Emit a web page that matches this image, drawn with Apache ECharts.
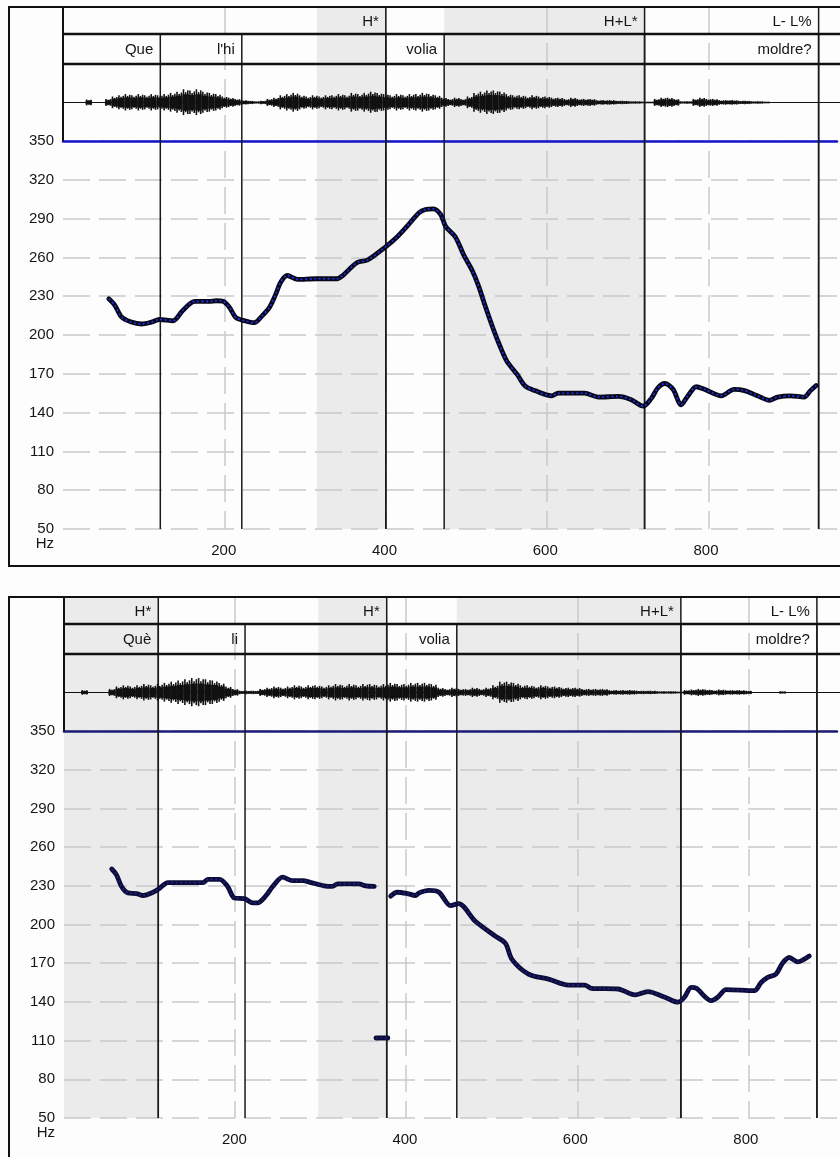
<!DOCTYPE html>
<html>
<head>
<meta charset="utf-8">
<script src="https://cdn.jsdelivr.net/npm/echarts@6/dist/echarts.min.js"></script>
<style>
  html, body { margin: 0; padding: 0; background: #fff; }
  #chart { width: 840px; height: 1157px; }
</style>
</head>
<body>
<div id="chart"></div>
<script>
// ---- Utterance 1: "Que l'hi volia moldre?" ----
// F0 contour, [time (ms), pitch (Hz)]
const pitchA = [
  [57,228],[64.5,223],[72.8,214],[85,210],[97.6,208.5],[110,210],[120,212],[137,211],
  [149,219],[164,226],[182,226],[190.6,226.5],[199,226],[207,221.5],[215,213.5],[226,211],
  [238,209.5],[248,215],[257,221.5],[265,232],[271,241],[279,246],[292,243],[315,243.5],
  [341,243.5],[348,246],[366,256],[379,258],[401,268],[416,276],[428,284],[443,294.5],
  [451,297],[461,297.5],[470,293],[476,284],[488,276],[498.5,262],[509,250],[517,238],
  [525,223],[534,207],[542,194],[552,180],[565,169.5],[575,160.5],[587,157],[608,153],
  [616,155],[649,155],[666,152],[691,152.5],[707,150],[722,145],[732,151],[740,159],
  [748.5,162.5],[759,158],[769,146],[777,152.5],[788,160],[798,158],[819,153],[835,158],
  [848,157],[864,153],[879,149.5],[889,152],[905,153],[922,152],[930,157],[937,161]
];
// Tone tier: [start, end, label, pitch-accent shading]
const tonesA = [[314.6,400.1,'H*',1],[472.4,720.8,'H+L*',1],[720.8,936.5,'L- L%',0]];
// Word tier: [label, end]
const wordsA = [['Que',120.6],["l'hi",221.6],['volia',472.4],['moldre?',936.5]];
const wordBoundsA = [120.6,221.6,400.1,472.4,720.8,936.5];
// Waveform amplitude envelope, one value every 8 ms from 24 ms
const waveStartA = 24, waveStepA = 8;
const waveAmpA = [
  0,2.5,0,0,3,5,6,7,6,7,6,7,6,7,8,9,11,10,11,9,8,7,5,4,3,2,1.5,1,1.5,3,
  4,6,7,8,6,5,6,5,6,6,7,6,8,7,8,9,8,7,6,7,6,7,7,8,7,6,4,3,4,3,
  5,8,9,10,10,9,7,6,6,5,6,5,5,4,4,3,4,3,3,3,2,2,2,1.5,1.5,1,1,0.5,0.5,3,
  4,4,3,1,1,3,4,3,3,2,2,2,1.5,1.5,1,1,0.5
];

// ---- Utterance 2: "Què li volia moldre?" ----
const pitchB1 = [
  [56,243],[61.6,238.5],[67.5,229.5],[75,224.5],[85,224],[93,222.5],[104.5,225],[112,228],
  [122,232.5],[143.5,232.5],[163,232.5],[169,235],[182.5,235],[192,229.5],[200,220.5],
  [211.7,220],[221.4,216.7],[227,216.7],[237,222.3],[245,229.5],[256.5,236.7],[268,234],
  [280,234],[290,232.5],[305,230],[315,229.5],[321,231.5],[346,231.5],[354,230],[364,229.5]
];
const pitchB2 = [[366,112],[373,112],[380,112]];
const pitchB3 = [
  [383.3,222],[391,225],[402.7,224],[412.5,222.5],[416.4,224.4],[428,226.4],[440,225],
  [453.5,214.6],[463,216.2],[482.7,202.5],[506,191],[518,185.4],[525.6,173],[545,161.6],
  [568.5,157.7],[592,153],[611,153],[619,150.5],[650,150],[670,145.4],[685,148],[705,143.6],
  [720.5,139.8],[728,143.6],[736,151.3],[742,150.5],[759.5,141],[767,143.6],[777,149.5],
  [810,148.7],[818,155],[825.7,159],[835.5,161.6],[843,170],[851,174.4],[861,171],
  [867,172.5],[874.5,175.6]
];
const tonesB = [[0,110.2,'H*',1],[297.3,377.2,'H*',1],[459.1,721,'H+L*',1],[721,880,'L- L%',0]];
const wordsB = [['Què',110.2],['li',211.6],['volia',459.1],['moldre?',880]];
const wordBoundsB = [110.2,211.6,377.2,459.1,721,880];
const waveStartB = 24, waveStepB = 8;
const waveAmpB = [
  2,0,0,0,3,5,6,5,6,7,6,7,8,9,10,11,12,12,11,10,8,5,3,1.5,1.5,1.5,3,4,5,4,
  5,6,5,6,6,5,6,7,6,7,6,7,7,6,7,8,7,7,8,8,8,7,4,3,4,3,3,4,3,4,
  6,9,9,8,6,6,5,6,5,5,4,4,4,3,3,3,3,2,2,2,2,1.5,1.5,1.5,1,1,1,0.5,2,2.5,
  3,2.5,2,2.5,2,2,2,1.5,0,0,0,0,1
];

// Pitch axis ticks (Hz) and time axis ticks (ms)
const hzMin = 50, hzMax = 350, hzStep = 30;
const msStep = 200;

const utterances = [
  { pitch: [pitchA], tones: tonesA, words: wordsA, wordBounds: wordBoundsA,
    waveStart: waveStartA, waveStep: waveStepA, waveAmp: waveAmpA },
  { pitch: [pitchB1, pitchB2, pitchB3], tones: tonesB, words: wordsB, wordBounds: wordBoundsB,
    waveStart: waveStartB, waveStep: waveStepB, waveAmp: waveAmpB }
];

// Panel geometry (pixels)
const panels = [
  { top: 7, left: 63, frameH: 522, tier2: 27, waveTop: 57, plotTop: 134, xMax: 963, boxBottom: 566,
    blue: '#1414c8', contour: '#08081a', dots: '#2233ee' },
  { top: 597, left: 64, frameH: 521, tier2: 27, waveTop: 57, plotTop: 134, xMax: 907, boxBottom: 1170,
    blue: '#1c1c78', contour: '#0c0c3a', dots: '#22227a' }
];

const FONT = 'Liberation Sans';
const TEXT = '#151515';
const GRID_LINE = { color: '#c9c9c9', width: 1.5, type: [27, 9] };
// relative spike heights used to texture each envelope step
const SPIKES = [1, 0.78, 0.92];

const grid = [], xAxis = [], yAxis = [], series = [], graphic = [];

panels.forEach((P, p) => {
  const U = utterances[p];
  const gF = 3 * p, gW = 3 * p + 1, gP = 3 * p + 2;
  const xF = 4 * p, xW = 4 * p + 1, xP = 4 * p + 2;

  grid.push({ left: P.left, right: 0, top: P.top, height: P.frameH });
  grid.push({ left: P.left, right: 0, top: P.top + P.waveTop, height: P.plotTop - P.waveTop });
  grid.push({ left: P.left, right: 0, top: P.top + P.plotTop, height: P.frameH - P.plotTop });

  // frame axes: vertical time grid through tiers, waveform and pitch plot
  xAxis.push({ gridIndex: gF, type: 'value', min: 0, max: P.xMax, interval: msStep, z: 1,
    axisLine: { show: false }, axisTick: { show: false }, axisLabel: { show: false },
    splitLine: { show: true, showMinLine: false, showMaxLine: false, lineStyle: GRID_LINE } });
  yAxis.push({ gridIndex: gF, type: 'value', min: 0, max: P.frameH, inverse: true, show: false });

  // waveform axes (centre line)
  xAxis.push({ gridIndex: gW, type: 'value', min: 0, max: P.xMax, z: 2,
    axisLine: { show: true, onZero: true, lineStyle: { color: '#111', width: 1.2 } },
    axisTick: { show: false }, axisLabel: { show: false }, splitLine: { show: false } });
  yAxis.push({ gridIndex: gW, type: 'value', min: -32, max: 32, show: false });

  // pitch axes
  xAxis.push({ gridIndex: gP, type: 'value', min: 0, max: P.xMax, interval: msStep,
    axisLine: { show: false }, axisTick: { show: false }, splitLine: { show: false },
    axisLabel: { show: true, margin: 14, color: TEXT, fontFamily: FONT, fontSize: 15,
      formatter: v => (v > 0 && v % msStep === 0) ? String(v) : '' } });
  xAxis.push({ gridIndex: gP, type: 'value', position: 'top', min: 0, max: P.xMax, z: 3,
    axisLine: { show: true, onZero: false, lineStyle: { color: P.blue, width: 2.5 } },
    axisTick: { show: false }, axisLabel: { show: false }, splitLine: { show: false } });
  yAxis.push({ gridIndex: gP, type: 'value', min: hzMin, max: hzMax, interval: hzStep, z: 1,
    name: 'Hz', nameLocation: 'start', nameGap: 7,
    nameTextStyle: { color: TEXT, fontFamily: FONT, fontSize: 15, align: 'right',
      verticalAlign: 'middle', padding: [0, 9, 0, 0] },
    axisLine: { show: false }, axisTick: { show: false },
    axisLabel: { margin: 9, color: TEXT, fontFamily: FONT, fontSize: 15 },
    splitLine: { show: true, lineStyle: GRID_LINE } });

  // shaded pitch-accent intervals
  const shaded = U.tones.filter(t => t[3]).map(t => [t[0], t[1]]);
  series.push({ type: 'custom', xAxisIndex: xF, yAxisIndex: gF, z: -1, silent: true,
    data: shaded,
    renderItem: (params, api) => {
      const a = api.coord([api.value(0), 0]);
      const b = api.coord([api.value(1), P.frameH]);
      return { type: 'rect', shape: { x: a[0], y: a[1], width: b[0] - a[0], height: b[1] - a[1] },
        style: { fill: '#ebebeb' } };
    } });

  // interval boundaries: tone boundaries span both tiers, word boundaries start at tier 2
  const bounds = U.tones.map(t => [t[1], 0]).concat(U.wordBounds.map(b => [b, P.tier2]));
  series.push({ type: 'custom', xAxisIndex: xF, yAxisIndex: gF, z: 4, silent: true,
    data: bounds,
    renderItem: (params, api) => {
      const a = api.coord([api.value(0), api.value(1)]);
      const b = api.coord([api.value(0), P.frameH]);
      return { type: 'line', shape: { x1: a[0], y1: a[1], x2: b[0], y2: b[1] },
        style: { stroke: '#1a1a1a', lineWidth: 1.5 } };
    } });

  // tier labels, right-aligned before each interval end
  const labels = U.tones.filter(t => t[2]).map(t => [t[1], P.tier2 / 2 + 1, t[2]])
    .concat(U.words.map(w => [w[1], (P.tier2 + P.waveTop) / 2 + 1, w[0]]));
  series.push({ type: 'custom', xAxisIndex: xF, yAxisIndex: gF, z: 5, silent: true,
    data: labels.map(l => [l[0], l[1]]),
    renderItem: (params, api) => {
      const c = api.coord([api.value(0), api.value(1)]);
      return { type: 'text', x: c[0] - 7, y: c[1],
        style: { text: labels[params.dataIndex][2], align: 'right', verticalAlign: 'middle',
          fontFamily: FONT, fontSize: 15, fill: TEXT } };
    } });

  // waveform envelope: solid core plus vertical spikes
  const wave = U.waveAmp.map((a, i) => [U.waveStart + i * U.waveStep, a]);
  series.push({ type: 'custom', xAxisIndex: xW, yAxisIndex: gW, z: 4, silent: true,
    data: wave,
    renderItem: (params, api) => {
      const x = api.value(0), a = api.value(1);
      if (!a) return null;
      const c = api.coord([x, 0]);
      const hpx = api.size([0, a])[1];
      const stepPx = api.size([U.waveStep, 0])[0];
      const children = [{ type: 'rect',
        shape: { x: c[0] - stepPx / 2, y: c[1] - Math.max(0.8, hpx * 0.62),
          width: stepPx, height: Math.max(1.6, hpx * 1.24) },
        style: { fill: '#111' } }];
      SPIKES.forEach((k, j) => {
        const sx = c[0] - stepPx / 2 + (j + 0.5) * stepPx / SPIKES.length;
        children.push({ type: 'line',
          shape: { x1: sx, y1: c[1] - hpx * k, x2: sx, y2: c[1] + hpx * k * 0.95 },
          style: { stroke: '#111', lineWidth: 1.6 } });
      });
      return { type: 'group', children };
    } });

  // F0 contour: dark thick trace with dotted inner highlight
  U.pitch.forEach(seg => {
    series.push({ type: 'line', xAxisIndex: xP, yAxisIndex: gP, z: 6, data: seg,
      showSymbol: false, smooth: 0.3, silent: true,
      lineStyle: { color: P.contour, width: 4.8, cap: 'round', join: 'round' } });
    series.push({ type: 'line', xAxisIndex: xP, yAxisIndex: gP, z: 7, data: seg,
      showSymbol: false, smooth: 0.3, silent: true,
      lineStyle: { color: P.dots, width: 1.6, type: [2, 2.5] } });
  });

  // panel frame and tier rows
  graphic.push(
    { type: 'rect', z: 10, silent: true,
      shape: { x: 9, y: P.top, width: 845, height: P.boxBottom - P.top },
      style: { fill: 'none', stroke: '#111', lineWidth: 2 } },
    { type: 'line', z: 10, silent: true,
      shape: { x1: P.left, y1: P.top + P.tier2, x2: 845, y2: P.top + P.tier2 },
      style: { stroke: '#111', lineWidth: 2.5 } },
    { type: 'line', z: 10, silent: true,
      shape: { x1: P.left, y1: P.top + P.waveTop, x2: 845, y2: P.top + P.waveTop },
      style: { stroke: '#111', lineWidth: 2.5 } },
    { type: 'line', z: 10, silent: true,
      shape: { x1: P.left, y1: P.top, x2: P.left, y2: P.top + P.plotTop },
      style: { stroke: '#111', lineWidth: 2 } }
  );
});

const chart = echarts.init(document.getElementById('chart'), null, { renderer: 'canvas' });
chart.setOption({
  animation: false,
  backgroundColor: '#fdfdfd',
  grid, xAxis, yAxis, series, graphic
});
</script>
</body>
</html>
